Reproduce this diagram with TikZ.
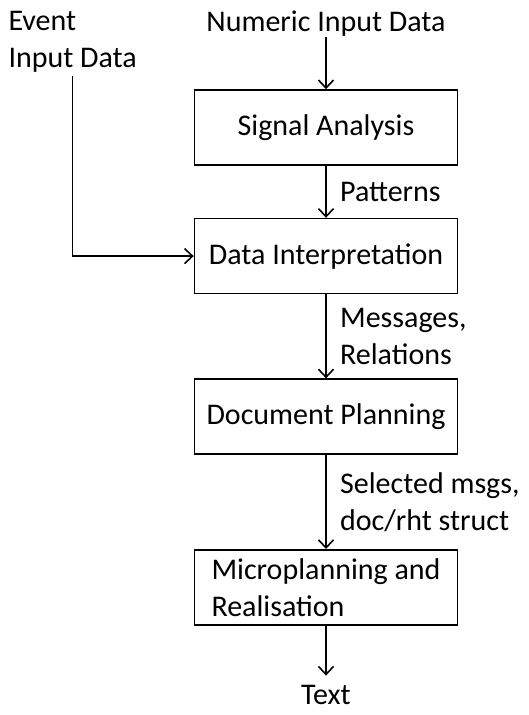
\documentclass[tikz,border=0pt]{standalone}
\usepackage{fontspec}
\setmainfont{Carlito}
\usetikzlibrary{arrows.meta, positioning}

\begin{document}
\begin{tikzpicture}[
    x=1pt, y=-1pt,
    node distance=53pt,
    stage/.style={draw, line width=1.6pt, minimum width=263pt, minimum height=75pt, align=center, font=\fontsize{30}{37}\selectfont},
    txt/.style={font=\fontsize{30}{37}\selectfont},
    lbl/.style={txt, align=left},
    flow/.style={-{Straight Barb[length=8pt, width=15pt]}, line width=1.6pt}
]
\useasboundingbox (0,0) rectangle (529,715);

% Stages
\node[stage] (signal) at (326,127.5) {Signal Analysis};
\node[stage, below=52pt of signal] (interp) {Data Interpretation};
\node[stage, below=84pt of interp] (docplan) {Document Planning};
\node[stage, align=left, below=94pt of docplan] (micro) {Microplanning and\\Realisation};

% Inputs and output
\node[txt, inner sep=1pt, above=52pt of signal] (numeric) {Numeric Input Data};
\node[lbl, anchor=north west] (event) at (5,8) {Event\\Input Data};
\node[txt, inner ysep=2pt, text height=27pt, text depth=0pt, below=50pt of micro] (text) {Text};

% Flow
\draw[flow] (numeric) -- (signal);
\draw[flow] (signal) -- node[lbl, midway, right=10pt] {Patterns} (interp);
\draw[flow] (event.south) |- (interp.west);
\draw[flow] (interp) -- node[lbl, midway, right=10pt] {Messages,\\Relations} (docplan);
\draw[flow] (docplan) -- node[lbl, midway, right=10pt] {Selected msgs,\\doc/rht struct} (micro);
\draw[flow] (micro) -- (text);

\end{tikzpicture}
\end{document}
